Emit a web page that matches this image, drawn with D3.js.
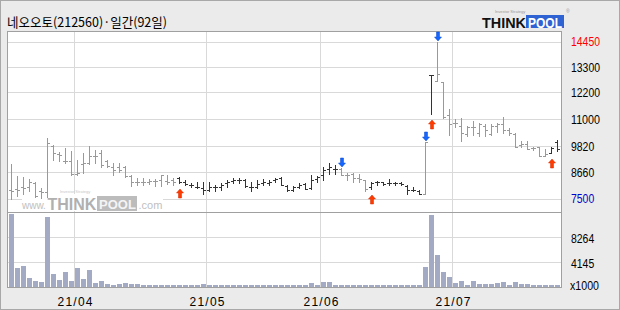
<!DOCTYPE html>
<html><head><meta charset="utf-8">
<script src="https://cdn.jsdelivr.net/npm/d3@7"></script>
<style>html,body{margin:0;padding:0;background:#ebebeb;} svg{display:block}</style>
</head><body><svg id="c" width="620" height="310"></svg>
<script>
const title = "네오오토(212560)·일간(92일)";
const dates = ["03/17","03/18","03/19","03/22","03/23","03/24","03/25","03/26","03/29","03/30","03/31",
"04/01","04/02","04/05","04/06","04/07","04/08","04/09","04/12","04/13","04/14","04/15","04/16","04/19","04/20","04/21","04/22","04/23","04/26","04/27","04/28","04/29","04/30",
"05/03","05/04","05/06","05/07","05/10","05/11","05/12","05/13","05/14","05/17","05/18","05/20","05/21","05/24","05/25","05/26","05/27","05/28","05/31",
"06/01","06/02","06/03","06/04","06/07","06/08","06/09","06/10","06/11","06/14","06/15","06/16","06/17","06/18","06/21","06/22","06/23","06/24","06/25","06/28","06/29","06/30",
"07/01","07/02","07/05","07/06","07/07","07/08","07/09","07/12","07/13","07/14","07/15","07/16","07/19","07/20","07/21","07/22","07/23","07/26"];
const open  = [7880,7930,7990,8030,8180,7810,7770,9830,9460,9180,9140,8580,9020,9060,9390,9500,9140,8910,8910,8890,8500,8210,8220,8250,8280,8330,8280,8300,8400,8250,8110,8030,7960,7880,7990,8030,8180,8280,8300,8300,8030,8030,8180,8180,8300,8400,8060,7880,8030,8150,7960,8370,8550,8800,8800,8800,8550,8590,8400,8300,8000,8210,8220,8180,8180,8180,8060,7880,7850,7690,12950,12700,12650,11200,10850,10700,10350,10650,10400,10700,10350,10700,10800,10550,10350,9870,9920,9720,9770,9390,9530,9990];
const high  = [9020,8500,8430,8350,8250,7960,10170,9870,9580,9720,9620,9210,9500,9830,9650,9650,9210,9090,9060,8940,8550,8400,8400,8360,8360,8550,8550,8400,8430,8300,8180,8220,8210,8250,8110,8180,8330,8400,8400,8360,8210,8330,8360,8330,8400,8470,8110,8060,8180,8180,8550,8500,8910,9090,8990,8840,8650,8620,8590,8330,8250,8280,8250,8370,8250,8210,8110,8030,7880,9980,12950,14450,12650,11450,11000,11050,10700,10950,10850,10800,10800,10850,11100,10600,10400,10050,10050,9800,9800,9700,9770,10100];
const low   = [7490,7590,7710,7840,7560,7520,7560,9210,9140,9060,8550,8550,8620,9020,9060,8910,8910,8550,8690,8470,8060,8110,8110,8150,8060,8060,8130,8110,8180,8110,8030,7960,7710,7810,7810,7880,8030,8180,8180,8030,7810,7960,8110,8110,8210,8110,7850,7810,7960,7910,7910,8250,8330,8590,8590,8550,8330,8210,8250,7810,7910,8110,8110,8080,8110,8080,7680,7810,7680,7690,11250,12700,11050,10300,10650,10050,10250,10300,10250,10250,10300,10450,10400,10300,9770,9770,9680,9650,9360,9360,9500,9620];
const close = [7850,7880,7960,8250,7620,7770,9970,9500,9430,9140,8580,8620,9090,9360,9400,8990,8960,8770,8770,8500,8210,8220,8250,8280,8280,8520,8220,8250,8250,8150,8080,8000,7880,8030,7990,8110,8250,8300,8300,8060,7990,8150,8250,8250,8360,8110,7880,8000,8110,7910,8330,8470,8770,8910,8800,8550,8520,8400,8370,7910,8180,8220,8140,8180,8180,8150,7880,7870,7690,9980,12950,13000,11100,10800,10850,10400,10650,10650,10800,10550,10700,10800,10550,10400,9800,9920,9700,9720,9390,9470,9720,9700];
const volume = [12110,3160,3430,1450,1070,790,11620,2110,1120,2550,960,3100,1290,2770,630,960,460,410,460,630,460,460,410,300,290,300,290,300,290,300,290,290,520,290,280,290,280,290,280,290,280,290,280,290,280,290,280,280,290,280,600,300,850,850,290,280,290,280,290,280,290,280,290,280,290,280,290,280,290,3260,11950,5360,2550,1620,740,1070,410,1070,580,520,470,630,790,410,910,470,470,410,250,250,250,410];
const buySignals = ["04/26","06/11","06/25","07/23"];
const sellSignals = ["06/04","06/24","06/28"];
const priceTicks = [14450,13300,12200,11000,9820,8660,7500];
const volTicks = [8264,4145];
const volUnit = "x1000";

const svg = d3.select("#c");
const L = 7, R = 562, T = 31, SEP = 212, B = 288;

const x = d3.scaleBand().domain(dates).range([8, 8 + 6 * dates.length]);
const y = d3.scaleLinear().domain([7500, 14450]).range([198.5, 41.5]);
const vy = d3.scaleLinear().domain([0, 8264]).range([287, 237.3]);

// background + outer border
svg.append("rect").attr("x",0.5).attr("y",0.5).attr("width",619).attr("height",309)
  .attr("fill","#ebebeb").attr("stroke","#a8a8a8");
svg.append("rect").attr("x",L).attr("y",T).attr("width",R-L).attr("height",B-T).attr("fill","#fff");

const grid = svg.append("g").attr("stroke","#d9d9d9").attr("shape-rendering","crispEdges");
priceTicks.forEach(v=>{
  const yy = Math.round(y(v)) + 0.5;
  grid.append("line").attr("x1",L).attr("x2",R).attr("y1",yy).attr("y2",yy);
});
volTicks.forEach(v=>{
  const yy = Math.round(vy(v)) + 0.5;
  grid.append("line").attr("x1",L).attr("x2",R).attr("y1",yy).attr("y2",yy);
});
// month boundaries
const monthStarts = dates.filter((d,i)=> i>0 && d.slice(0,2)!==dates[i-1].slice(0,2));
monthStarts.forEach(d=>{
  const xx = x(d) + 0.5;
  grid.append("line").attr("x1",xx).attr("x2",xx).attr("y1",T).attr("y2",B);
});

// watermark
const wm = svg.append("g").attr("font-family","Liberation Sans");
wm.append("rect").attr("x",22).attr("y",194).attr("width",141).attr("height",17).attr("fill","#fff");
wm.append("rect").attr("x",97).attr("y",196).attr("width",40).attr("height",15).attr("fill","#bcbcbc");
wm.append("text").attr("x",60).attr("y",193).attr("font-size",4).attr("fill","#c8c8c8").text("Investor Strategy");
wm.append("text").attr("x",22).attr("y",209).attr("font-size",10).attr("fill","#c0c0c0").text("www.");
wm.append("text").attr("x",47.5).attr("y",209.5).attr("font-size",16).attr("font-weight","bold").attr("fill","#b0b0b0").text("THINK");
wm.append("text").attr("x",99).attr("y",209).attr("font-size",13).attr("font-weight","bold").attr("fill","#f4f4f4").text("POOL");
wm.append("text").attr("x",138.5).attr("y",209).attr("font-size",11).attr("fill","#c0c0c0").text(".com");

// panel borders
const bd = svg.append("g").attr("stroke","#a0a0a0").attr("shape-rendering","crispEdges").attr("fill","none");
bd.append("rect").attr("x",L+0.5).attr("y",T+0.5).attr("width",R-L-1).attr("height",B-T-1);
bd.append("line").attr("x1",L).attr("x2",R).attr("y1",SEP+0.5).attr("y2",SEP+0.5);

// signal phase colour
const sig = {};
buySignals.forEach(d=>sig[d]="buy");
sellSignals.forEach(d=>sig[d]="sell");
let state = "sell";
const colors = dates.map(d=>{ if (sig[d]) state = sig[d]; return state==="buy" ? "#333333" : "#999999"; });

// OHLC bars
const bars = svg.append("g").attr("shape-rendering","crispEdges").attr("fill","none");
dates.forEach((d,i)=>{
  const x0 = x(d), cx = x0 + 3.5, c = colors[i];
  const yh = Math.round(y(high[i])), yl = Math.round(y(low[i]));
  bars.append("line").attr("x1",cx).attr("x2",cx).attr("y1",yh).attr("y2",yl+1).attr("stroke",c);
  const yo = Math.round(y(open[i])) + 0.5, yc = Math.round(y(close[i])) + 0.5;
  bars.append("line").attr("x1",x0+1).attr("x2",x0+3).attr("y1",yo).attr("y2",yo).attr("stroke",c);
  bars.append("line").attr("x1",x0+4).attr("x2",x0+6).attr("y1",yc).attr("y2",yc).attr("stroke",c);
});

// volume bars
const vb = svg.append("g").attr("shape-rendering","crispEdges").attr("fill","#a3aac3");
dates.forEach((d,i)=>{
  const top = Math.round(vy(volume[i]));
  vb.append("rect").attr("x",x(d)+1).attr("width",5).attr("y",Math.min(top,286)).attr("height",Math.max(1,287-top));
});

// arrows
const ar = svg.append("g");
buySignals.forEach(d=>{
  const i = dates.indexOf(d), cx = x(d) + 4, t = Math.round(y(low[i])) + 6;
  ar.append("path").attr("fill","#ff3c00").attr("stroke","#d02800").attr("stroke-width",0.5)
    .attr("d",`M${cx},${t} L${cx+3.5},${t+4} L${cx+1.5},${t+4} L${cx+1.5},${t+9} L${cx-1.5},${t+9} L${cx-1.5},${t+4} L${cx-3.5},${t+4} Z`);
});
sellSignals.forEach(d=>{
  const i = dates.indexOf(d), cx = x(d) + 4, b = Math.round(y(high[i])) - 1;
  ar.append("path").attr("fill","#1466ff").attr("stroke","#0a46c8").attr("stroke-width",0.5)
    .attr("d",`M${cx},${b} L${cx+3.5},${b-4} L${cx+1.5},${b-4} L${cx+1.5},${b-9} L${cx-1.5},${b-9} L${cx-1.5},${b-4} L${cx-3.5},${b-4} Z`);
});

// axis labels
const lab = svg.append("g").attr("font-family","Liberation Sans").attr("font-size",13);
priceTicks.forEach((v,k)=>{
  const s = String(v);
  lab.append("text").attr("x",571).attr("y",y(v)).attr("dy","0.36em")
    .attr("textLength",5.8*s.length).attr("lengthAdjust","spacingAndGlyphs")
    .attr("fill", k===0 ? "#ff0000" : (k===priceTicks.length-1 ? "#0000cc" : "#000")).text(s);
});
volTicks.forEach(v=>{
  const s = String(v);
  lab.append("text").attr("x",571).attr("y",vy(v)+1.5).attr("dy","0.36em").attr("font-size",12)
    .attr("textLength",5.8*s.length).attr("lengthAdjust","spacingAndGlyphs").attr("fill","#000").text(s);
});
lab.append("text").attr("x",570).attr("y",286).attr("dy","0.36em").attr("font-size",12)
  .attr("textLength",29).attr("lengthAdjust","spacingAndGlyphs").attr("fill","#000").text(volUnit);
monthStarts.forEach(d=>{
  lab.append("text").attr("x",x(d)+1).attr("y",306).attr("text-anchor","middle").attr("font-size",12)
    .attr("textLength",35).attr("lengthAdjust","spacing").attr("fill","#000").text("21/" + d.slice(0,2));
});

// title
svg.append("text").attr("x",7).attr("y",27).attr("font-family","Noto Sans CJK KR").attr("font-size",13)
  .attr("textLength",160).attr("lengthAdjust","spacingAndGlyphs").attr("fill","#000").text(title);

// logo
const lg = svg.append("g").attr("font-family","Liberation Sans").attr("font-weight","bold");
lg.append("text").attr("x",495).attr("y",12.5).attr("font-size",4).attr("font-weight","normal").attr("fill","#999").text("Investor Strategy");
lg.append("rect").attr("x",526).attr("y",15).attr("width",38).attr("height",13).attr("fill","#2f62d2");
const lt = lg.append("text").attr("y",27.5).attr("font-size",15);
lt.append("tspan").attr("x",482).attr("fill","#111").attr("textLength",44).attr("lengthAdjust","spacingAndGlyphs").text("THINK");
lt.append("tspan").attr("x",528).attr("fill","#fff").attr("textLength",34).attr("lengthAdjust","spacingAndGlyphs").text("POOL");
lg.append("text").attr("x",566).attr("y",12.5).attr("font-size",5).attr("font-weight","normal").attr("fill","#999").text("®");
</script></body></html>
